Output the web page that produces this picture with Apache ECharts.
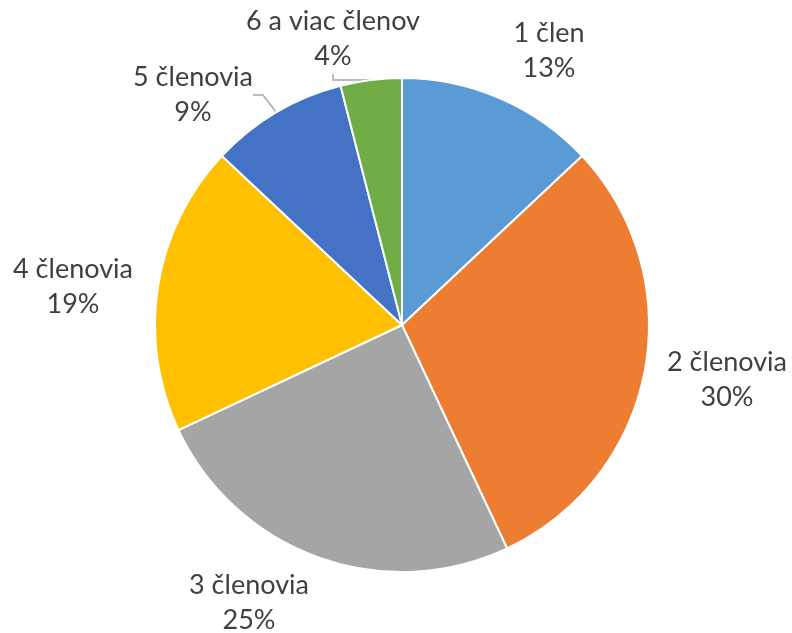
<!DOCTYPE html>
<html>
<head>
<meta charset="utf-8">
<script src="https://cdn.jsdelivr.net/npm/echarts@6/dist/echarts.min.js"></script>
<style>
  html, body { margin: 0; padding: 0; background: #fff; }
  #chart { width: 792px; height: 633px; }
</style>
</head>
<body>
<div id="chart"></div>
<script>
// počet členov domácnosti
var categories = ["1 člen", "2 členovia", "3 členovia", "4 členovia", "5 členovia", "6 a viac členov"];
var shares = [13, 30, 25, 19, 9, 4];

var colors = ["#5B9BD5", "#ED7D31", "#A5A5A5", "#FFC000", "#4472C4", "#70AD47"];
// label block centres (x, y) - like excel "best fit"
var labelPos = [[549, 51], [727, 380], [249, 603], [73, 287], [193, 95], [333, 39]];
var withLine = [false, false, false, false, true, true];

var chart = echarts.init(document.getElementById("chart"));

var seriesData = categories.map(function (name, i) {
  return {
    name: name,
    value: shares[i],
    itemStyle: { color: colors[i] },
    labelLine: { show: withLine[i] }
  };
});

var option = {
  animation: false,
  series: [
    {
      type: "pie",
      center: [402, 325],
      radius: 247,
      startAngle: 90,
      clockwise: true,
      itemStyle: {
        borderColor: "#ffffff",
        borderWidth: 2
      },
      label: {
        show: true,
        position: "outside",
        formatter: "{b}\n{c}%",
        fontFamily: "Lato",
        fontSize: 27,
        lineHeight: 35,
        color: "#404040",
        align: "center",
        overflow: "none",
        bleedMargin: 0
      },
      labelLine: {
        length: 10,
        length2: 10,
        lineStyle: {
          color: "#A6A6A6",
          width: 1.5
        }
      },
      labelLayout: function (params) {
        var p = labelPos[params.dataIndex];
        return {
          x: p[0],
          y: p[1],
          align: "center",
          verticalAlign: "middle"
        };
      },
      data: seriesData
    }
  ]
};

chart.setOption(option);
</script>
</body>
</html>
